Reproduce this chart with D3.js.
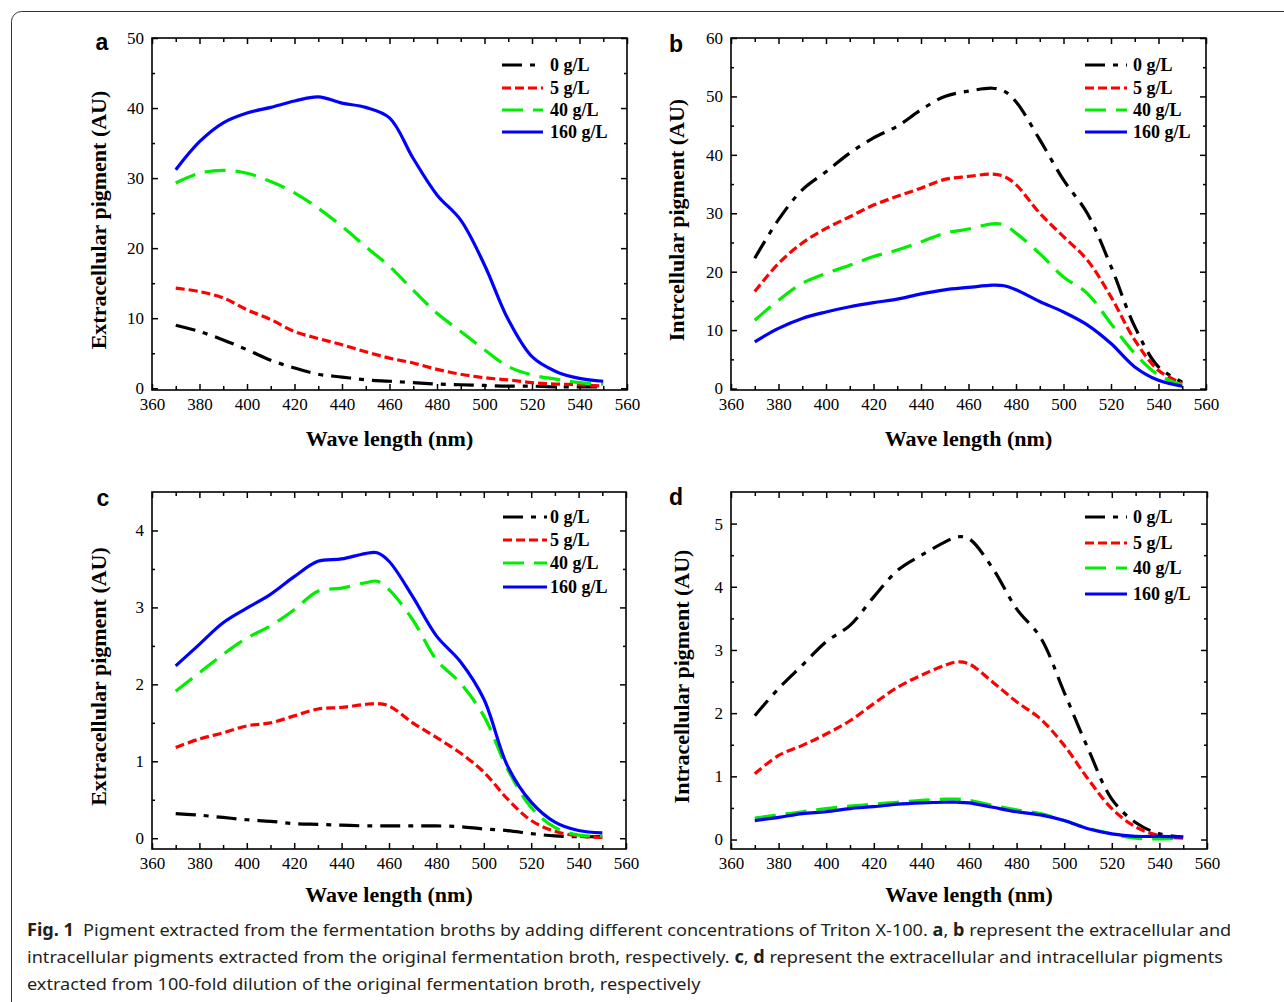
<!DOCTYPE html>
<html>
<head>
<meta charset="utf-8">
<script src="https://cdn.jsdelivr.net/npm/d3@7"></script>
<style>
  body { margin: 0; background: #fff; }
  svg { display: block; }
</style>
</head>
<body>
<svg id="fig" width="1284" height="1002"></svg>
<script>
// ---- data ----
var seriesNames = ['0 g/L', '5 g/L', '40 g/L', '160 g/L'];

// panel a : extracellular, original broth
var wlA = [370, 380, 390, 400, 410, 420, 430, 440, 450, 460, 470, 480, 490, 500, 510, 520, 530, 540, 550];
var a0   = [9.0, 8.1, 6.9, 5.5, 4.0, 2.9, 2.0, 1.6, 1.2, 1.0, 0.8, 0.6, 0.5, 0.4, 0.3, 0.3, 0.2, 0.2, 0.2];
var a5   = [14.3, 13.8, 12.9, 11.2, 9.8, 8.1, 7.1, 6.2, 5.2, 4.3, 3.6, 2.7, 2.0, 1.5, 1.2, 0.8, 0.6, 0.5, 0.3];
var a40  = [29.3, 30.7, 31.1, 30.7, 29.5, 27.9, 25.7, 23.1, 20.2, 17.4, 14.0, 10.7, 8.1, 5.5, 3.1, 1.9, 1.3, 0.8, 0.6];
var a160 = [31.2, 35.2, 37.9, 39.3, 40.1, 41.0, 41.6, 40.7, 40.1, 38.6, 32.8, 27.6, 24.0, 17.6, 9.8, 4.5, 2.4, 1.4, 1.0];

// panel b : intracellular, original broth
var wlB = [370, 380, 390, 400, 410, 420, 430, 440, 450, 460, 470, 475, 480, 490, 500, 510, 520, 530, 540, 550];
var b0   = [22.3, 28.9, 34.0, 37.1, 40.3, 42.9, 44.9, 47.7, 50.0, 50.9, 51.4, 50.9, 49.1, 42.6, 35.7, 30.0, 20.9, 10.6, 3.7, 1.1];
var b5   = [16.6, 21.4, 24.9, 27.4, 29.4, 31.4, 32.9, 34.3, 35.8, 36.3, 36.7, 36.3, 34.9, 30.0, 26.0, 22.0, 15.7, 8.3, 3.1, 0.9];
var b40  = [11.7, 15.1, 18.0, 19.7, 21.1, 22.6, 23.7, 25.1, 26.6, 27.3, 28.2, 28.0, 26.6, 23.1, 19.1, 16.3, 11.1, 6.0, 2.3, 0.6];
var b160 = [8.0, 10.3, 12.0, 13.1, 14.0, 14.7, 15.3, 16.2, 16.9, 17.3, 17.7, 17.6, 16.9, 14.9, 13.1, 10.9, 7.7, 3.7, 1.4, 0.4];

// panel c : extracellular, 100-fold dilution
var wlC = [370, 380, 390, 400, 410, 420, 430, 440, 450, 455, 460, 470, 480, 490, 500, 510, 520, 530, 540, 550];
var c0   = [0.32, 0.30, 0.27, 0.24, 0.22, 0.19, 0.18, 0.17, 0.16, 0.16, 0.16, 0.16, 0.16, 0.15, 0.12, 0.10, 0.06, 0.03, 0.02, 0.02];
var c5   = [1.18, 1.29, 1.37, 1.46, 1.50, 1.59, 1.68, 1.70, 1.74, 1.75, 1.72, 1.50, 1.31, 1.11, 0.86, 0.51, 0.23, 0.09, 0.03, 0.01];
var c40  = [1.91, 2.15, 2.39, 2.60, 2.76, 2.97, 3.21, 3.25, 3.32, 3.34, 3.23, 2.84, 2.32, 2.02, 1.59, 0.90, 0.40, 0.14, 0.04, 0.03];
var c160 = [2.24, 2.52, 2.80, 2.99, 3.17, 3.40, 3.60, 3.63, 3.70, 3.71, 3.60, 3.14, 2.63, 2.30, 1.81, 0.94, 0.47, 0.21, 0.10, 0.07];

// panel d : intracellular, 100-fold dilution
var wlD = [370, 380, 390, 400, 410, 420, 430, 440, 450, 455, 460, 470, 480, 490, 500, 510, 520, 530, 540, 550];
var d0   = [1.96, 2.39, 2.76, 3.13, 3.39, 3.84, 4.26, 4.50, 4.71, 4.79, 4.76, 4.29, 3.65, 3.20, 2.33, 1.44, 0.64, 0.27, 0.09, 0.04];
var d5   = [1.04, 1.33, 1.49, 1.67, 1.88, 2.15, 2.41, 2.60, 2.76, 2.81, 2.78, 2.49, 2.18, 1.91, 1.49, 0.96, 0.49, 0.20, 0.06, 0.02];
var d40  = [0.34, 0.39, 0.44, 0.49, 0.53, 0.56, 0.59, 0.62, 0.64, 0.64, 0.62, 0.54, 0.47, 0.41, 0.30, 0.18, 0.09, 0.02, 0.01, 0.02];
var d160 = [0.30, 0.35, 0.41, 0.44, 0.49, 0.52, 0.56, 0.58, 0.59, 0.59, 0.58, 0.51, 0.44, 0.39, 0.30, 0.17, 0.09, 0.05, 0.05, 0.04];

var xTicks = [360, 380, 400, 420, 440, 460, 480, 500, 520, 540, 560];

// ---- styles ----
var colors = ['#000000', '#ff0000', '#00ee00', '#0000ff'];
var dashes = ['20,8,5,8', '9,4', '21,10', null];
var serif = '"Liberation Serif", "Times New Roman", serif';

var panels = [
  {letter: 'a', wl: wlA, ys: [a0, a5, a40, a160], left: 152, right: 627, top: 38, bottom: 390, ydom: [-0.25, 50],
   major: d3.range(0, 51, 10), minor: d3.range(5, 50, 10), title: 'Extracellular pigment (AU)',
   lx: 502, lx2: 543, tx: 550, rows: [65, 88, 110, 132], letterPos: [102, 50], ytx: 106, xty: 446},
  {letter: 'b', wl: wlB, ys: [b0, b5, b40, b160], left: 731, right: 1206, top: 38, bottom: 390, ydom: [-0.25, 60],
   major: d3.range(0, 61, 10), minor: d3.range(5, 60, 10), title: 'Intrcellular pigment (AU)',
   lx: 1085, lx2: 1127, tx: 1133, rows: [65, 88, 110, 132], letterPos: [676, 52], ytx: 684, xty: 446},
  {letter: 'c', wl: wlC, ys: [c0, c5, c40, c160], left: 152, right: 626, top: 492, bottom: 849, ydom: [-0.14, 4.5],
   major: d3.range(0, 5, 1), minor: d3.range(0.5, 4.5, 1), title: 'Extracellular pigment (AU)',
   lx: 503, lx2: 547, tx: 550, rows: [517, 540, 563, 587], letterPos: [103, 506], ytx: 106, xty: 902},
  {letter: 'd', wl: wlD, ys: [d0, d5, d40, d160], left: 731, right: 1207, top: 492, bottom: 849, ydom: [-0.15, 5.5],
   major: d3.range(0, 6, 1), minor: d3.range(0.5, 5.5, 1), title: 'Intracellular pigment (AU)',
   lx: 1085, lx2: 1127, tx: 1133, rows: [517, 543, 568, 594], letterPos: [676, 505], ytx: 689, xty: 902}
];

var svg = d3.select('#fig');

// outer rounded frame of the figure
svg.append('rect')
  .attr('x', 11.5).attr('y', 11.5)
  .attr('width', 1320).attr('height', 1030)
  .attr('rx', 10)
  .attr('fill', 'none').attr('stroke', '#333').attr('stroke-width', 1);

var styleAxis = function(a) {
  a.select('.domain').remove();
  a.selectAll('line').attr('stroke-width', 1.5);
  a.attr('font-family', serif).attr('font-size', 17);
};

panels.forEach(function(p) {
  var x = d3.scaleLinear().domain([360, 560]).range([p.left, p.right]);
  var y = d3.scaleLinear().domain(p.ydom).range([p.bottom, p.top]);
  var g = svg.append('g');

  // minor ticks
  var minorX = d3.range(370, 560, 20);
  [[d3.axisBottom(x), p.bottom], [d3.axisTop(x), p.top]].forEach(function(s) {
    g.append('g').attr('transform', 'translate(0,' + s[1] + ')')
      .call(s[0].tickValues(minorX).tickSizeInner(-4).tickSizeOuter(0).tickFormat(''))
      .call(styleAxis);
  });
  [[d3.axisLeft(y), p.left], [d3.axisRight(y), p.right]].forEach(function(s) {
    g.append('g').attr('transform', 'translate(' + s[1] + ',0)')
      .call(s[0].tickValues(p.minor).tickSizeInner(-3).tickSizeOuter(0).tickFormat(''))
      .call(styleAxis);
  });

  // major ticks
  g.append('g').attr('transform', 'translate(0,' + p.bottom + ')')
    .call(d3.axisBottom(x).tickValues(xTicks).tickSizeInner(-6).tickSizeOuter(0).tickPadding(8))
    .call(styleAxis);
  g.append('g').attr('transform', 'translate(0,' + p.top + ')')
    .call(d3.axisTop(x).tickValues(xTicks).tickSizeInner(-6).tickSizeOuter(0).tickFormat(''))
    .call(styleAxis);
  g.append('g').attr('transform', 'translate(' + p.left + ',0)')
    .call(d3.axisLeft(y).tickValues(p.major).tickSizeInner(-6).tickSizeOuter(0).tickPadding(8).tickFormat(d3.format('d')))
    .call(styleAxis);
  g.append('g').attr('transform', 'translate(' + p.right + ',0)')
    .call(d3.axisRight(y).tickValues(p.major).tickSizeInner(-6).tickSizeOuter(0).tickFormat(''))
    .call(styleAxis);

  // plot frame
  g.append('rect')
    .attr('x', p.left).attr('y', p.top)
    .attr('width', p.right - p.left).attr('height', p.bottom - p.top)
    .attr('fill', 'none').attr('stroke', '#000').attr('stroke-width', 1.6);

  // curves
  var line = d3.line()
    .x(function(d) { return x(d[0]); })
    .y(function(d) { return y(d[1]); })
    .curve(d3.curveCatmullRom.alpha(0.5));

  p.ys.forEach(function(vals, i) {
    var pts = p.wl.map(function(w, k) { return [w, vals[k]]; });
    g.append('path')
      .datum(pts)
      .attr('d', line)
      .attr('fill', 'none')
      .attr('stroke', colors[i])
      .attr('stroke-width', 3.2)
      .attr('stroke-dasharray', dashes[i]);
  });

  // legend
  seriesNames.forEach(function(name, i) {
    g.append('line')
      .attr('x1', p.lx).attr('x2', p.lx2)
      .attr('y1', p.rows[i]).attr('y2', p.rows[i])
      .attr('stroke', colors[i]).attr('stroke-width', 3.2)
      .attr('stroke-dasharray', dashes[i]);
    g.append('text')
      .attr('x', p.tx).attr('y', p.rows[i] + 6)
      .style('font-family', serif)
      .style('font-weight', 'bold').style('font-size', '18px')
      .text(name);
  });

  // axis titles
  g.append('text')
    .attr('x', (p.left + p.right) / 2).attr('y', p.xty)
    .attr('text-anchor', 'middle')
    .style('font-family', serif)
    .style('font-weight', 'bold').style('font-size', '22px')
    .text('Wave length (nm)');
  g.append('text')
    .attr('transform', 'translate(' + p.ytx + ',' + ((p.top + p.bottom) / 2 + 6) + ') rotate(-90)')
    .attr('text-anchor', 'middle')
    .style('font-family', serif)
    .style('font-weight', 'bold').style('font-size', '22px')
    .text(p.title);

  // panel letter
  g.append('text')
    .attr('x', p.letterPos[0]).attr('y', p.letterPos[1])
    .attr('text-anchor', 'middle')
    .style('font-family', '"Liberation Sans", Arial, sans-serif')
    .style('font-weight', 'bold').style('font-size', '23px')
    .text(p.letter);
});

// caption
var capLines = [
  [['Fig. 1', true], ['\u2002Pigment extracted from the fermentation broths by adding different concentrations of Triton X-100. ', false],
   ['a', true], [', ', false], ['b', true], [' represent the extracellular and', false]],
  [['intracellular pigments extracted from the original fermentation broth, respectively. ', false],
   ['c', true], [', ', false], ['d', true], [' represent the extracellular and intracellular pigments', false]],
  [['extracted from 100-fold dilution of the original fermentation broth, respectively', false]]
];
var capBase = [936, 963, 990];

var capTexts = capLines.map(function(parts, i) {
  var t = svg.append('text')
    .attr('x', 0).attr('y', 0)
    .style('font-family', '"Noto Sans", "Open Sans", sans-serif')
    .style('font-size', '17px')
    .attr('fill', '#231f20');
  parts.forEach(function(pt) {
    t.append('tspan').style('font-weight', pt[1] ? 'bold' : 'normal').text(pt[0]);
  });
  return t;
});
// fit first line to its width in the reference, same squeeze for all lines
var w0 = capTexts[0].node().getComputedTextLength();
var sx = 1205 / w0;
capTexts.forEach(function(t, i) {
  t.attr('transform', 'translate(27,' + capBase[i] + ') scale(' + sx + ',1)');
});
</script>
</body>
</html>
